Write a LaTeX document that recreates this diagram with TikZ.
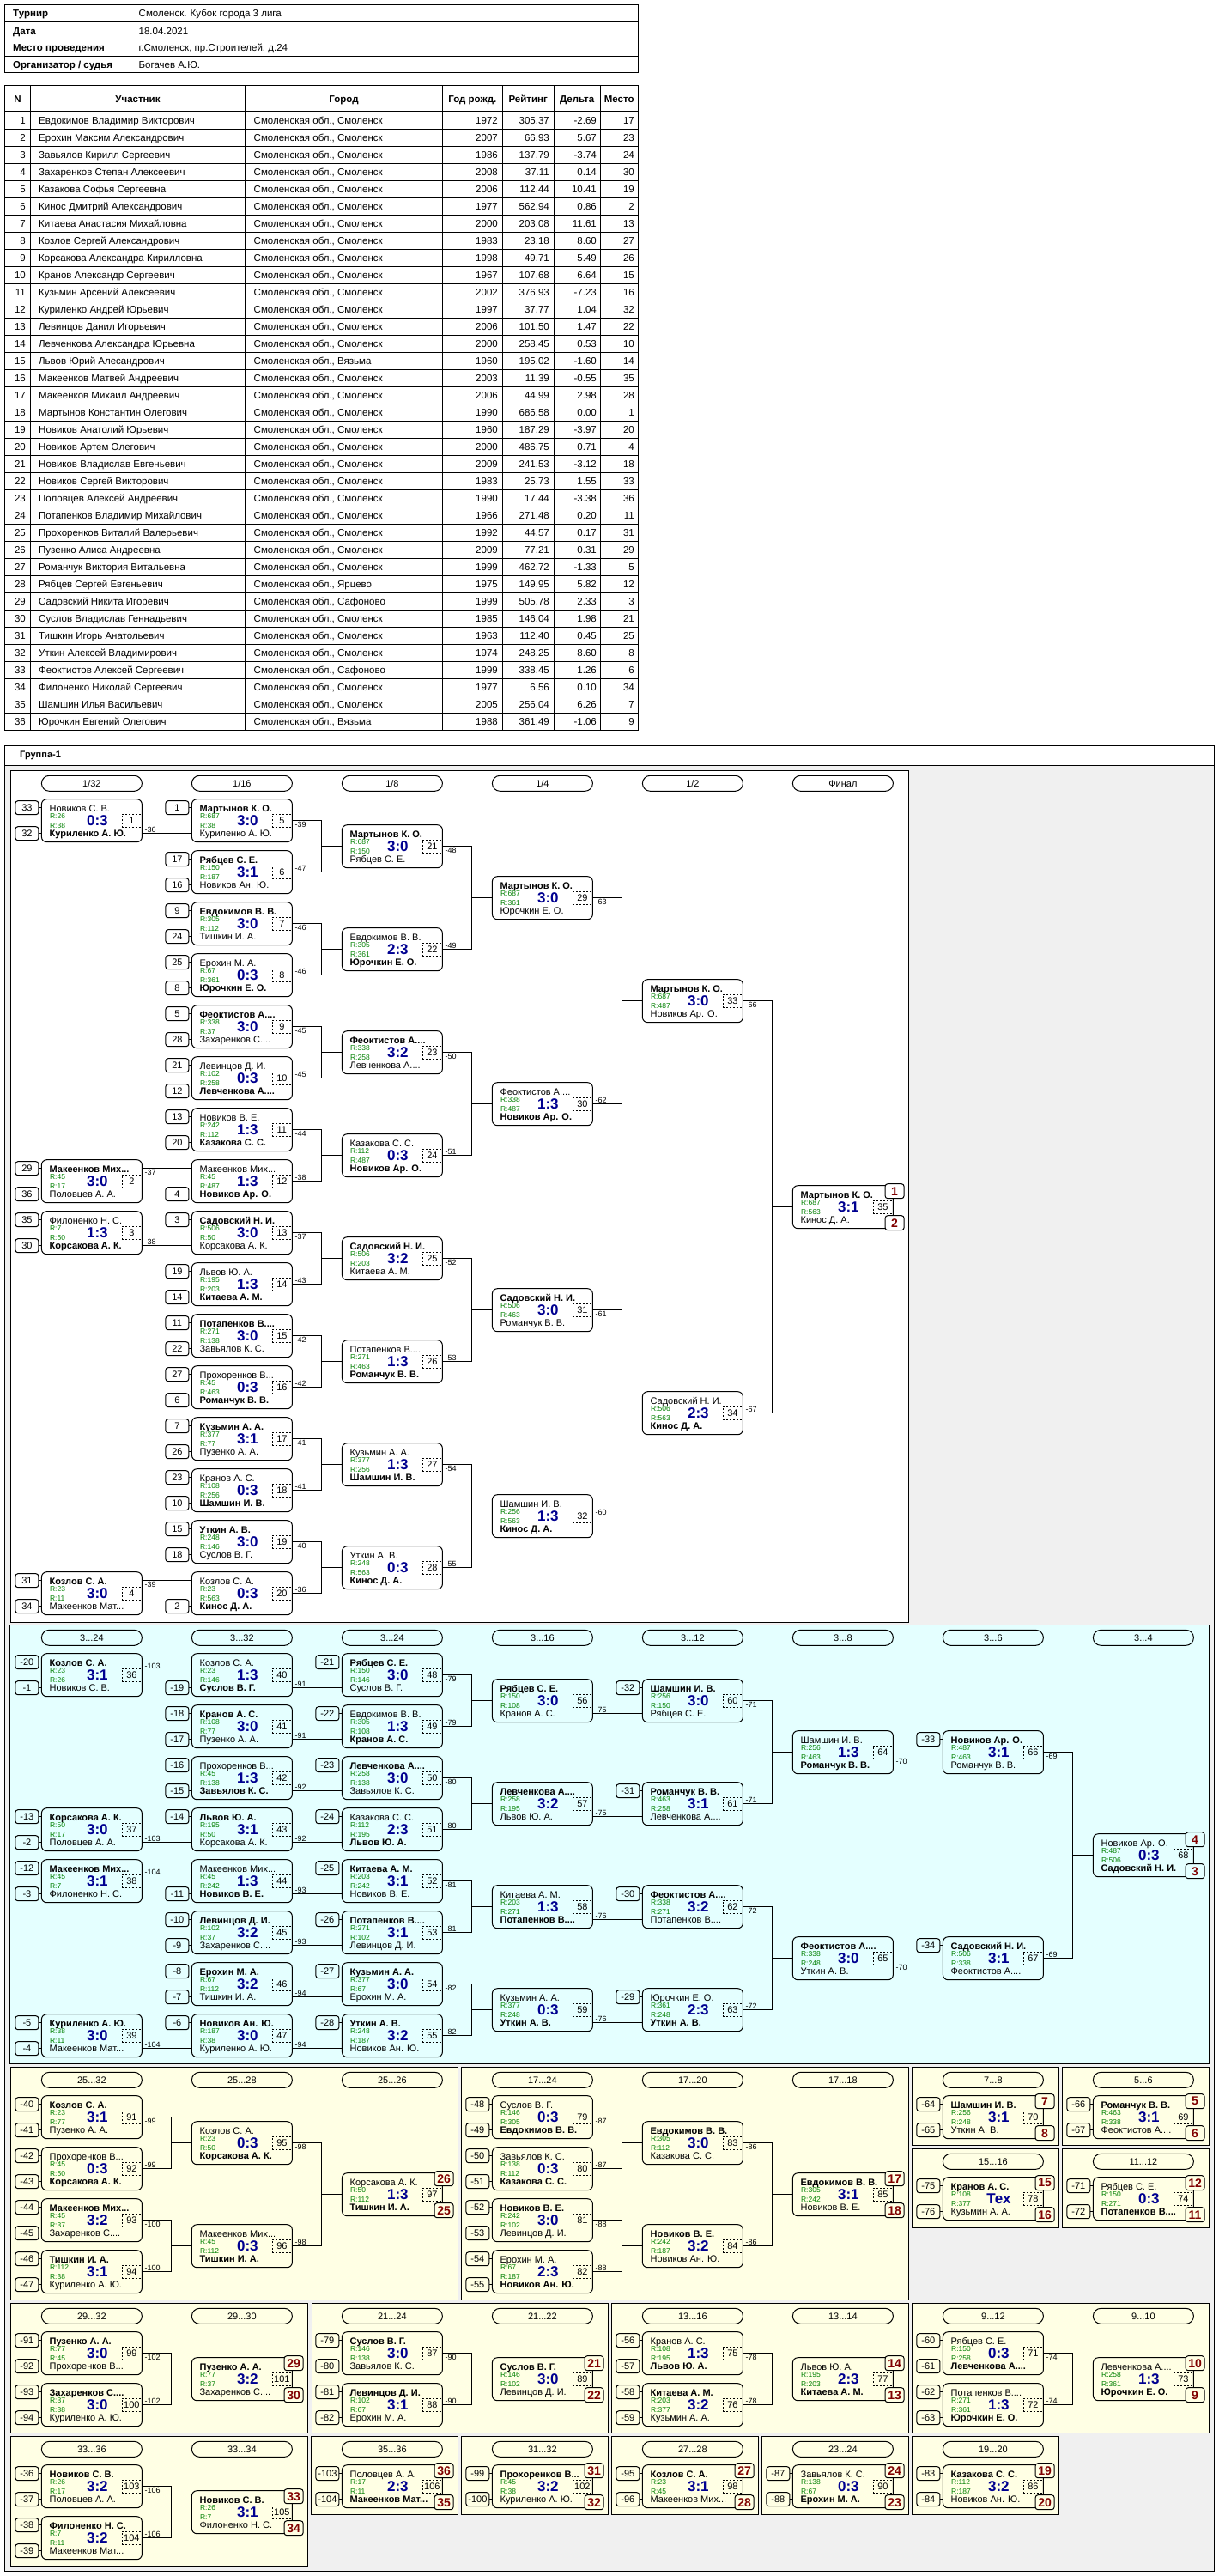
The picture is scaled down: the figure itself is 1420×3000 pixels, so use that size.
\documentclass[tikz,border=0pt]{standalone}
\usepackage{fontspec}
\setmainfont{Liberation Sans}
\usetikzlibrary{calc}
\definecolor{zel}{HTML}{008000}
\definecolor{sinij}{HTML}{000090}
\definecolor{bord}{HTML}{800000}
\definecolor{goluboj}{HTML}{E4FFFF}
\definecolor{krem}{HTML}{FFFFE4}
\definecolor{fon}{HTML}{F0F0F0}

\tikzset{
  lnk/.style={line width=1pt},
  tt/.style={font=\fontsize{11.5}{12}\selectfont, inner sep=0pt, text height=8.3pt, text depth=0pt},
  tb/.style={tt, font=\fontsize{11.5}{12}\selectfont\bfseries},
  mbox/.style={draw, line width=1pt, rounded corners=6pt, minimum width=117pt, minimum height=50pt, inner sep=0pt},
  pname/.style={font=\fontsize{11}{12}\selectfont, anchor=west, inner sep=0pt, text height=8pt, text depth=0pt},
  rtg/.style={font=\fontsize{8.5}{9}\selectfont, text=zel, anchor=west, inner sep=0pt, text height=6.1pt, text depth=0pt},
  scr/.style={font=\fontsize{17}{18}\selectfont\bfseries, text=sinij, inner sep=0pt, text height=12.2pt, text depth=0pt},
  nbox/.style={draw, dashed, dash pattern=on 2pt off 2pt, minimum width=23pt, minimum height=15.6pt, inner sep=0pt, font=\fontsize{11}{12}\selectfont},
  sbox/.style={draw, line width=1pt, rounded corners=3pt, minimum width=27pt, minimum height=16pt, inner sep=0pt, font=\fontsize{11}{12}\selectfont},
  hbox/.style={draw, line width=1pt, rounded corners=9pt, minimum width=117pt, minimum height=18pt, inner sep=0pt, font=\fontsize{11}{12}\selectfont},
  pbox/.style={draw, line width=1pt, rounded corners=3pt, minimum width=22pt, minimum height=17pt, inner sep=0pt, font=\fontsize{14}{15}\selectfont\bfseries, text=bord},
  lab/.style={font=\fontsize{9}{10}\selectfont, inner sep=1pt, text height=6.5pt, text depth=0pt}
}
\newcommand{\tdot}{...}

% match box: X, Y, winner (1/2), name 1, rating 1, name 2, rating 2, score, number
\newcommand{\mt}[9]{%
  \ifnum#3=1\relax\def\mtA{\bfseries}\def\mtB{}\else\def\mtA{}\def\mtB{\bfseries}\fi
  \node[mbox] (m#9) at (#1+58.5,#2+25) {};
  \node[pname] (m#9a) at ([xshift=9.5pt,yshift=14.5pt]m#9.west) {\mtA #4};
  \node[rtg] (m#9ra) at ([xshift=10pt,yshift=5pt]m#9.west) {R:#5};
  \node[rtg] (m#9rb) at ([xshift=10pt,yshift=-6pt]m#9.west) {R:#7};
  \node[pname] (m#9b) at ([xshift=9.5pt,yshift=-14.5pt]m#9.west) {\mtB #6};
  \node[scr] (m#9c) at ([xshift=6.5pt,yshift=0.5pt]m#9.center) {#8};
  \node[nbox] (m#9n) at ([xshift=-12.5pt]m#9.east) {#9};
}
\newcommand{\sdt}[2]{\node[sbox] (m#1st) at ([xshift=-16.5pt,yshift=15pt]m#1.west) {#2};
  \draw[lnk] (m#1st.east) -- (m#1st.east -| m#1.west);}
\newcommand{\sdb}[2]{\node[sbox] (m#1sb) at ([xshift=-16.5pt,yshift=-15pt]m#1.west) {#2};
  \draw[lnk] (m#1sb.east) -- (m#1sb.east -| m#1.west);}
\newcommand{\sds}[3]{\sdt{#1}{#2}\sdb{#1}{#3}}
\newcommand{\brk}[5]{%
  \draw[lnk] (m#1.east) -- ++(34,0) |- (m#3.west);
  \draw[lnk] (m#2.east) -- ++(34,0) |- (m#3.west);
  \node[lab, anchor=north west] (m#1l) at ([xshift=1.5pt,yshift=-0.5pt]m#1.east) {#4};
  \node[lab, anchor=south west] (m#2l) at ([xshift=1.5pt,yshift=0.5pt]m#2.east) {#5};}
\newcommand{\strB}[3]{%
  \draw[lnk] ([yshift=-15pt]m#1.east) -- ([yshift=-15pt]m#2.west);
  \node[lab, anchor=south west] (m#1l) at ([xshift=1.5pt,yshift=-14.5pt]m#1.east) {#3};}
\newcommand{\strT}[3]{%
  \draw[lnk] ([yshift=15pt]m#1.east) -- ([yshift=15pt]m#2.west);
  \node[lab, anchor=north west] (m#1l) at ([xshift=1.5pt,yshift=14.5pt]m#1.east) {#3};}
\newcommand{\fin}[4]{%
  \node[pbox, fill=#4] (m#1pa) at ([xshift=1.2pt,yshift=-7pt]m#1.north east) {#2};
  \node[pbox, fill=#4] (m#1pb) at ([xshift=1.2pt,yshift=7pt]m#1.south east) {#3};}
\newcommand{\pan}[5]{\draw[lnk, fill=#5] (#1,#2) rectangle (#3,#4);}
\newcommand{\hdr}[4]{\node[hbox] (#4) at (#1+58.5,#2+9) {#3};}

\begin{document}
\begin{tikzpicture}[x=1pt, y=-1pt]
\useasboundingbox[fill=white] (0,0) rectangle (1420,3000);

% header table
\draw[lnk] (5.7,5.3) rectangle (743,84.3);
\foreach \y in {26,45.7,65.7} \draw[lnk] (5.7,\y) -- (743,\y);
\draw[lnk] (151,5.3) -- (151,84.3);
\foreach \y/\k/\v [count=\i] in {15.6/Турнир/{Смоленск. Кубок города 3 лига}, 35.9/Дата/18.04.2021,
    55.7/Место проведения/{г.Смоленск, пр.Строителей, д.24}, 75/{Организатор / судья}/Богачев А.Ю.} {
  \node[tb, anchor=west] (hk\i) at (15,\y) {\k};
  \node[tt, anchor=west] (hv\i) at (161.5,\y) {\v};
}

% participants
\draw[lnk] (5.7,100) rectangle (743,850);
\foreach \i in {0,...,35} \draw[lnk] (5.7,130+20*\i) -- (743,130+20*\i);
\foreach \x in {35.6,285.5,515.4,585.3,645.1,699.3} \draw[lnk] (\x,100) -- (\x,850);
\foreach \x/\t [count=\i] in {20.6/N, 160.5/Участник, 400.5/Город, 550.3/Год рожд., 615.2/Рейтинг, 672.2/Дельта, 721.2/Место}
  \node[tb] (th\i) at (\x,115) {\t};
\foreach \n/\fio/\gor/\god/\rt/\dl/\ms in {
  1/Евдокимов Владимир Викторович/Смоленск/1972/305.37/-2.69/17,
  2/Ерохин Максим Александрович/Смоленск/2007/66.93/5.67/23,
  3/Завьялов Кирилл Сергеевич/Смоленск/1986/137.79/-3.74/24,
  4/Захаренков Степан Алексеевич/Смоленск/2008/37.11/0.14/30,
  5/Казакова Софья Сергеевна/Смоленск/2006/112.44/10.41/19,
  6/Кинос Дмитрий Александрович/Смоленск/1977/562.94/0.86/2,
  7/Китаева Анастасия Михайловна/Смоленск/2000/203.08/11.61/13,
  8/Козлов Сергей Александрович/Смоленск/1983/23.18/8.60/27,
  9/Корсакова Александра Кирилловна/Смоленск/1998/49.71/5.49/26,
  10/Кранов Александр Сергеевич/Смоленск/1967/107.68/6.64/15,
  11/Кузьмин Арсений Алексеевич/Смоленск/2002/376.93/-7.23/16,
  12/Куриленко Андрей Юрьевич/Смоленск/1997/37.77/1.04/32,
  13/Левинцов Данил Игорьевич/Смоленск/2006/101.50/1.47/22,
  14/Левченкова Александра Юрьевна/Смоленск/2000/258.45/0.53/10,
  15/Львов Юрий Алесандрович/Вязьма/1960/195.02/-1.60/14,
  16/Макеенков Матвей Андреевич/Смоленск/2003/11.39/-0.55/35,
  17/Макеенков Михаил Андреевич/Смоленск/2006/44.99/2.98/28,
  18/Мартынов Константин Олегович/Смоленск/1990/686.58/0.00/1,
  19/Новиков Анатолий Юрьевич/Смоленск/1960/187.29/-3.97/20,
  20/Новиков Артем Олегович/Смоленск/2000/486.75/0.71/4,
  21/Новиков Владислав Евгеньевич/Смоленск/2009/241.53/-3.12/18,
  22/Новиков Сергей Викторович/Смоленск/1983/25.73/1.55/33,
  23/Половцев Алексей Андреевич/Смоленск/1990/17.44/-3.38/36,
  24/Потапенков Владимир Михайлович/Смоленск/1966/271.48/0.20/11,
  25/Прохоренков Виталий Валерьевич/Смоленск/1992/44.57/0.17/31,
  26/Пузенко Алиса Андреевна/Смоленск/2009/77.21/0.31/29,
  27/Романчук Виктория Витальевна/Смоленск/1999/462.72/-1.33/5,
  28/Рябцев Сергей Евгеньевич/Ярцево/1975/149.95/5.82/12,
  29/Садовский Никита Игоревич/Сафоново/1999/505.78/2.33/3,
  30/Суслов Владислав Геннадьевич/Смоленск/1985/146.04/1.98/21,
  31/Тишкин Игорь Анатольевич/Смоленск/1963/112.40/0.45/25,
  32/Уткин Алексей Владимирович/Смоленск/1974/248.25/8.60/8,
  33/Феоктистов Алексей Сергеевич/Сафоново/1999/338.45/1.26/6,
  34/Филоненко Николай Сергеевич/Смоленск/1977/6.56/0.10/34,
  35/Шамшин Илья Васильевич/Смоленск/2005/256.04/6.26/7,
  36/Юрочкин Евгений Олегович/Вязьма/1988/361.49/-1.06/9} {
  \node[tt, anchor=east] (tn\n) at (30,120+20*\n) {\n};
  \node[tt, anchor=west] (tf\n) at (45,120+20*\n) {\fio};
  \node[tt, anchor=west] (tg\n) at (295.5,120+20*\n) {Смоленская обл., \gor};
  \node[tt, anchor=east] (ty\n) at (580,120+20*\n) {\god};
  \node[tt, anchor=east] (tr\n) at (640,120+20*\n) {\rt};
  \node[tt, anchor=east] (td\n) at (695,120+20*\n) {\dl};
  \node[tt, anchor=east] (tm\n) at (739,120+20*\n) {\ms};
}

% group frame
\draw[lnk, fill=white] (5.5,868) rectangle (1414.5,2994.5);
\fill[fon] (6,891.5) rectangle (1414,2994);
\draw[lnk] (5.5,891) -- (1414.5,891);
\node[font=\fontsize{11}{12}\selectfont\bfseries, anchor=west, inner sep=0pt] (grp) at (23,879.5) {Группа-1};

% panels
\pan{12.5}{897.3}{1058}{1889}{white}
\pan{11.5}{1892.3}{1408.5}{2403}{goluboj}
\pan{12.4}{2407.7}{533}{2678}{krem}
\pan{537.4}{2407.7}{1058}{2678}{krem}
\pan{1062.3}{2407}{1233.3}{2498}{krem}
\pan{1237}{2407}{1408.7}{2498}{krem}
\pan{1062.3}{2502}{1233.3}{2594}{krem}
\pan{1237}{2502}{1408.7}{2594}{krem}
\pan{12.7}{2682}{358.7}{2833.3}{krem}
\pan{363}{2682}{708.5}{2833.3}{krem}
\pan{712.4}{2682}{1058.6}{2833.3}{krem}
\pan{1062.7}{2682}{1408.5}{2833.3}{krem}
\pan{12.7}{2837.3}{358.7}{2988.3}{krem}
\pan{362.8}{2837.3}{533.5}{2928.3}{krem}
\pan{537.6}{2837.3}{708.8}{2928.3}{krem}
\pan{712.4}{2837.3}{883.7}{2928.3}{krem}
\pan{887.3}{2837.3}{1058.6}{2928.3}{krem}
\pan{1062.7}{2837.3}{1233.5}{2928.3}{krem}

% headers
\foreach \x/\t [count=\i] in {48.4/1\slash 32, 223.4/1\slash 16, 398.4/1\slash 8, 573.4/1\slash 4, 748.4/1\slash 2, 923.4/Финал}
  {\hdr{\x}{903.3}{\t}{hm\i}}
\foreach \x/\t [count=\i] in {48.4/3\tdot 24, 223.4/3\tdot 32, 398.4/3\tdot 24, 573.4/3\tdot 16, 748.4/3\tdot 12, 923.4/3\tdot 8, 1098.4/3\tdot 6, 1273.4/3\tdot 4}
  {\hdr{\x}{1898.3}{\t}{hc\i}}
\foreach \x/\t [count=\i] in {48.4/25\tdot 32, 223.4/25\tdot 28, 398.4/25\tdot 26, 573.4/17\tdot 24, 748.4/17\tdot 20, 923.4/17\tdot 18, 1098.4/7\tdot 8, 1273.4/5\tdot 6}
  {\hdr{\x}{2413.3}{\t}{ha\i}}
\foreach \x/\t [count=\i] in {1098.4/15\tdot 16, 1273.4/11\tdot 12}
  {\hdr{\x}{2508.3}{\t}{hb\i}}
\foreach \x/\t [count=\i] in {48.4/29\tdot 32, 223.4/29\tdot 30, 398.4/21\tdot 24, 573.4/21\tdot 22, 748.4/13\tdot 16, 923.4/13\tdot 14, 1098.4/9\tdot 12, 1273.4/9\tdot 10}
  {\hdr{\x}{2688.3}{\t}{hd\i}}
\foreach \x/\t [count=\i] in {48.4/33\tdot 36, 223.4/33\tdot 34, 398.4/35\tdot 36, 573.4/31\tdot 32, 748.4/27\tdot 28, 923.4/23\tdot 24, 1098.4/19\tdot 20}
  {\hdr{\x}{2843.3}{\t}{he\i}}

% main bracket
\mt{48.4}{930.7}{2}{Новиков С. В.}{26}{Куриленко А. Ю.}{38}{0:3}{1}
\mt{48.4}{1350.7}{1}{Макеенков Мих...}{45}{Половцев А. А.}{17}{3:0}{2}
\mt{48.4}{1410.7}{2}{Филоненко Н. С.}{7}{Корсакова А. К.}{50}{1:3}{3}
\mt{48.4}{1830.7}{1}{Козлов С. А.}{23}{Макеенков Мат...}{11}{3:0}{4}
\sds{1}{33}{32}\sds{2}{29}{36}\sds{3}{35}{30}\sds{4}{31}{34}

\mt{223.4}{930.7}{1}{Мартынов К. О.}{687}{Куриленко А. Ю.}{38}{3:0}{5}
\mt{223.4}{990.7}{1}{Рябцев С. Е.}{150}{Новиков Ан. Ю.}{187}{3:1}{6}
\mt{223.4}{1050.7}{1}{Евдокимов В. В.}{305}{Тишкин И. А.}{112}{3:0}{7}
\mt{223.4}{1110.7}{2}{Ерохин М. А.}{67}{Юрочкин Е. О.}{361}{0:3}{8}
\mt{223.4}{1170.7}{1}{Феоктистов А....}{338}{Захаренков С....}{37}{3:0}{9}
\mt{223.4}{1230.7}{2}{Левинцов Д. И.}{102}{Левченкова А....}{258}{0:3}{10}
\mt{223.4}{1290.7}{2}{Новиков В. Е.}{242}{Казакова С. С.}{112}{1:3}{11}
\mt{223.4}{1350.7}{2}{Макеенков Мих...}{45}{Новиков Ар. О.}{487}{1:3}{12}
\mt{223.4}{1410.7}{1}{Садовский Н. И.}{506}{Корсакова А. К.}{50}{3:0}{13}
\mt{223.4}{1470.7}{2}{Львов Ю. А.}{195}{Китаева А. М.}{203}{1:3}{14}
\mt{223.4}{1530.7}{1}{Потапенков В....}{271}{Завьялов К. С.}{138}{3:0}{15}
\mt{223.4}{1590.7}{2}{Прохоренков В...}{45}{Романчук В. В.}{463}{0:3}{16}
\mt{223.4}{1650.7}{1}{Кузьмин А. А.}{377}{Пузенко А. А.}{77}{3:1}{17}
\mt{223.4}{1710.7}{2}{Кранов А. С.}{108}{Шамшин И. В.}{256}{0:3}{18}
\mt{223.4}{1770.7}{1}{Уткин А. В.}{248}{Суслов В. Г.}{146}{3:0}{19}
\mt{223.4}{1830.7}{2}{Козлов С. А.}{23}{Кинос Д. А.}{563}{0:3}{20}
\sdt{5}{1}\sds{6}{17}{16}\sds{7}{9}{24}\sds{8}{25}{8}\sds{9}{5}{28}\sds{10}{21}{12}
\sds{11}{13}{20}\sdb{12}{4}\sdt{13}{3}\sds{14}{19}{14}\sds{15}{11}{22}\sds{16}{27}{6}
\sds{17}{7}{26}\sds{18}{23}{10}\sds{19}{15}{18}\sdb{20}{2}

\mt{398.4}{960.7}{1}{Мартынов К. О.}{687}{Рябцев С. Е.}{150}{3:0}{21}
\mt{398.4}{1080.7}{2}{Евдокимов В. В.}{305}{Юрочкин Е. О.}{361}{2:3}{22}
\mt{398.4}{1200.7}{1}{Феоктистов А....}{338}{Левченкова А....}{258}{3:2}{23}
\mt{398.4}{1320.7}{2}{Казакова С. С.}{112}{Новиков Ар. О.}{487}{0:3}{24}
\mt{398.4}{1440.7}{1}{Садовский Н. И.}{506}{Китаева А. М.}{203}{3:2}{25}
\mt{398.4}{1560.7}{2}{Потапенков В....}{271}{Романчук В. В.}{463}{1:3}{26}
\mt{398.4}{1680.7}{2}{Кузьмин А. А.}{377}{Шамшин И. В.}{256}{1:3}{27}
\mt{398.4}{1800.7}{2}{Уткин А. В.}{248}{Кинос Д. А.}{563}{0:3}{28}

\mt{573.4}{1020.7}{1}{Мартынов К. О.}{687}{Юрочкин Е. О.}{361}{3:0}{29}
\mt{573.4}{1260.7}{2}{Феоктистов А....}{338}{Новиков Ар. О.}{487}{1:3}{30}
\mt{573.4}{1500.7}{1}{Садовский Н. И.}{506}{Романчук В. В.}{463}{3:0}{31}
\mt{573.4}{1740.7}{2}{Шамшин И. В.}{256}{Кинос Д. А.}{563}{1:3}{32}

\mt{748.4}{1140.7}{1}{Мартынов К. О.}{687}{Новиков Ар. О.}{487}{3:0}{33}
\mt{748.4}{1620.7}{2}{Садовский Н. И.}{506}{Кинос Д. А.}{563}{2:3}{34}
\mt{923.4}{1380.7}{1}{Мартынов К. О.}{687}{Кинос Д. А.}{563}{3:1}{35}
\fin{35}{1}{2}{white}

\strB{1}{5}{-36}\strT{2}{12}{-37}\strB{3}{13}{-38}\strT{4}{20}{-39}
\brk{5}{6}{21}{-39}{-47}\brk{7}{8}{22}{-46}{-46}\brk{9}{10}{23}{-45}{-45}\brk{11}{12}{24}{-44}{-38}
\brk{13}{14}{25}{-37}{-43}\brk{15}{16}{26}{-42}{-42}\brk{17}{18}{27}{-41}{-41}\brk{19}{20}{28}{-40}{-36}
\brk{21}{22}{29}{-48}{-49}\brk{23}{24}{30}{-50}{-51}\brk{25}{26}{31}{-52}{-53}\brk{27}{28}{32}{-54}{-55}
\brk{29}{30}{33}{-63}{-62}\brk{31}{32}{34}{-61}{-60}
\brk{33}{34}{35}{-66}{-67}

% places 3..24
\mt{48.4}{1925.7}{1}{Козлов С. А.}{23}{Новиков С. В.}{26}{3:1}{36}
\mt{48.4}{2105.7}{1}{Корсакова А. К.}{50}{Половцев А. А.}{17}{3:0}{37}
\mt{48.4}{2165.7}{1}{Макеенков Мих...}{45}{Филоненко Н. С.}{7}{3:1}{38}
\mt{48.4}{2345.7}{1}{Куриленко А. Ю.}{38}{Макеенков Мат...}{11}{3:0}{39}
\sds{36}{-20}{-1}\sds{37}{-13}{-2}\sds{38}{-12}{-3}\sds{39}{-5}{-4}

\mt{223.4}{1925.7}{2}{Козлов С. А.}{23}{Суслов В. Г.}{146}{1:3}{40}
\mt{223.4}{1985.7}{1}{Кранов А. С.}{108}{Пузенко А. А.}{77}{3:0}{41}
\mt{223.4}{2045.7}{2}{Прохоренков В...}{45}{Завьялов К. С.}{138}{1:3}{42}
\mt{223.4}{2105.7}{1}{Львов Ю. А.}{195}{Корсакова А. К.}{50}{3:1}{43}
\mt{223.4}{2165.7}{2}{Макеенков Мих...}{45}{Новиков В. Е.}{242}{1:3}{44}
\mt{223.4}{2225.7}{1}{Левинцов Д. И.}{102}{Захаренков С....}{37}{3:2}{45}
\mt{223.4}{2285.7}{1}{Ерохин М. А.}{67}{Тишкин И. А.}{112}{3:2}{46}
\mt{223.4}{2345.7}{1}{Новиков Ан. Ю.}{187}{Куриленко А. Ю.}{38}{3:0}{47}
\sdb{40}{-19}\sds{41}{-18}{-17}\sds{42}{-16}{-15}\sdt{43}{-14}
\sdb{44}{-11}\sds{45}{-10}{-9}\sds{46}{-8}{-7}\sdt{47}{-6}

\mt{398.4}{1925.7}{1}{Рябцев С. Е.}{150}{Суслов В. Г.}{146}{3:0}{48}
\mt{398.4}{1985.7}{2}{Евдокимов В. В.}{305}{Кранов А. С.}{108}{1:3}{49}
\mt{398.4}{2045.7}{1}{Левченкова А....}{258}{Завьялов К. С.}{138}{3:0}{50}
\mt{398.4}{2105.7}{2}{Казакова С. С.}{112}{Львов Ю. А.}{195}{2:3}{51}
\mt{398.4}{2165.7}{1}{Китаева А. М.}{203}{Новиков В. Е.}{242}{3:1}{52}
\mt{398.4}{2225.7}{1}{Потапенков В....}{271}{Левинцов Д. И.}{102}{3:1}{53}
\mt{398.4}{2285.7}{1}{Кузьмин А. А.}{377}{Ерохин М. А.}{67}{3:0}{54}
\mt{398.4}{2345.7}{1}{Уткин А. В.}{248}{Новиков Ан. Ю.}{187}{3:2}{55}
\sdt{48}{-21}\sdt{49}{-22}\sdt{50}{-23}\sdt{51}{-24}\sdt{52}{-25}\sdt{53}{-26}\sdt{54}{-27}\sdt{55}{-28}

\mt{573.4}{1955.7}{1}{Рябцев С. Е.}{150}{Кранов А. С.}{108}{3:0}{56}
\mt{573.4}{2075.7}{1}{Левченкова А....}{258}{Львов Ю. А.}{195}{3:2}{57}
\mt{573.4}{2195.7}{2}{Китаева А. М.}{203}{Потапенков В....}{271}{1:3}{58}
\mt{573.4}{2315.7}{2}{Кузьмин А. А.}{377}{Уткин А. В.}{248}{0:3}{59}

\mt{748.4}{1955.7}{1}{Шамшин И. В.}{256}{Рябцев С. Е.}{150}{3:0}{60}
\mt{748.4}{2075.7}{1}{Романчук В. В.}{463}{Левченкова А....}{258}{3:1}{61}
\mt{748.4}{2195.7}{1}{Феоктистов А....}{338}{Потапенков В....}{271}{3:2}{62}
\mt{748.4}{2315.7}{2}{Юрочкин Е. О.}{361}{Уткин А. В.}{248}{2:3}{63}
\sdt{60}{-32}\sdt{61}{-31}\sdt{62}{-30}\sdt{63}{-29}

\mt{923.4}{2015.7}{2}{Шамшин И. В.}{256}{Романчук В. В.}{463}{1:3}{64}
\mt{923.4}{2255.7}{1}{Феоктистов А....}{338}{Уткин А. В.}{248}{3:0}{65}
\mt{1098.4}{2015.7}{1}{Новиков Ар. О.}{487}{Романчук В. В.}{463}{3:1}{66}
\mt{1098.4}{2255.7}{1}{Садовский Н. И.}{506}{Феоктистов А....}{338}{3:1}{67}
\sdt{66}{-33}\sdt{67}{-34}
\mt{1273.4}{2135.7}{2}{Новиков Ар. О.}{487}{Садовский Н. И.}{506}{0:3}{68}
\fin{68}{4}{3}{goluboj}

\strT{36}{40}{-103}\strB{37}{43}{-103}\strT{38}{44}{-104}\strB{39}{47}{-104}
\strB{40}{48}{-91}\strB{41}{49}{-91}\strB{42}{50}{-92}\strB{43}{51}{-92}
\strB{44}{52}{-93}\strB{45}{53}{-93}\strB{46}{54}{-94}\strB{47}{55}{-94}
\brk{48}{49}{56}{-79}{-79}\brk{50}{51}{57}{-80}{-80}\brk{52}{53}{58}{-81}{-81}\brk{54}{55}{59}{-82}{-82}
\strB{56}{60}{-75}\strB{57}{61}{-75}\strB{58}{62}{-76}\strB{59}{63}{-76}
\brk{60}{61}{64}{-71}{-71}\brk{62}{63}{65}{-72}{-72}
\strB{64}{66}{-70}\strB{65}{67}{-70}
\brk{66}{67}{68}{-69}{-69}

% places 25..32 and 17..24
\mt{48.4}{2440.7}{1}{Козлов С. А.}{23}{Пузенко А. А.}{77}{3:1}{91}
\mt{48.4}{2500.7}{2}{Прохоренков В...}{45}{Корсакова А. К.}{50}{0:3}{92}
\mt{48.4}{2560.7}{1}{Макеенков Мих...}{45}{Захаренков С....}{37}{3:2}{93}
\mt{48.4}{2620.7}{1}{Тишкин И. А.}{112}{Куриленко А. Ю.}{38}{3:1}{94}
\sds{91}{-40}{-41}\sds{92}{-42}{-43}\sds{93}{-44}{-45}\sds{94}{-46}{-47}
\mt{223.4}{2470.7}{2}{Козлов С. А.}{23}{Корсакова А. К.}{50}{0:3}{95}
\mt{223.4}{2590.7}{2}{Макеенков Мих...}{45}{Тишкин И. А.}{112}{0:3}{96}
\mt{398.4}{2530.7}{2}{Корсакова А. К.}{50}{Тишкин И. А.}{112}{1:3}{97}
\fin{97}{26}{25}{krem}
\brk{91}{92}{95}{-99}{-99}\brk{93}{94}{96}{-100}{-100}\brk{95}{96}{97}{-98}{-98}

\mt{573.4}{2440.7}{2}{Суслов В. Г.}{146}{Евдокимов В. В.}{305}{0:3}{79}
\mt{573.4}{2500.7}{2}{Завьялов К. С.}{138}{Казакова С. С.}{112}{0:3}{80}
\mt{573.4}{2560.7}{1}{Новиков В. Е.}{242}{Левинцов Д. И.}{102}{3:0}{81}
\mt{573.4}{2620.7}{2}{Ерохин М. А.}{67}{Новиков Ан. Ю.}{187}{2:3}{82}
\sds{79}{-48}{-49}\sds{80}{-50}{-51}\sds{81}{-52}{-53}\sds{82}{-54}{-55}
\mt{748.4}{2470.7}{1}{Евдокимов В. В.}{305}{Казакова С. С.}{112}{3:0}{83}
\mt{748.4}{2590.7}{1}{Новиков В. Е.}{242}{Новиков Ан. Ю.}{187}{3:2}{84}
\mt{923.4}{2530.7}{1}{Евдокимов В. В.}{305}{Новиков В. Е.}{242}{3:1}{85}
\fin{85}{17}{18}{krem}
\brk{79}{80}{83}{-87}{-87}\brk{81}{82}{84}{-88}{-88}\brk{83}{84}{85}{-86}{-86}

% single matches
\mt{1098.4}{2440.7}{1}{Шамшин И. В.}{256}{Уткин А. В.}{248}{3:1}{70}
\sds{70}{-64}{-65}\fin{70}{7}{8}{krem}
\mt{1273.4}{2440.7}{1}{Романчук В. В.}{463}{Феоктистов А....}{338}{3:1}{69}
\sds{69}{-66}{-67}\fin{69}{5}{6}{krem}
\mt{1098.4}{2535.7}{1}{Кранов А. С.}{108}{Кузьмин А. А.}{377}{Тех}{78}
\sds{78}{-75}{-76}\fin{78}{15}{16}{krem}
\mt{1273.4}{2535.7}{2}{Рябцев С. Е.}{150}{Потапенков В....}{271}{0:3}{74}
\sds{74}{-71}{-72}\fin{74}{12}{11}{krem}

% places 29..32, 21..24, 13..16, 9..12
\mt{48.4}{2715.7}{1}{Пузенко А. А.}{77}{Прохоренков В...}{45}{3:0}{99}
\mt{48.4}{2775.7}{1}{Захаренков С....}{37}{Куриленко А. Ю.}{38}{3:0}{100}
\sds{99}{-91}{-92}\sds{100}{-93}{-94}
\mt{223.4}{2745.7}{1}{Пузенко А. А.}{77}{Захаренков С....}{37}{3:2}{101}
\fin{101}{29}{30}{krem}\brk{99}{100}{101}{-102}{-102}

\mt{398.4}{2715.7}{1}{Суслов В. Г.}{146}{Завьялов К. С.}{138}{3:0}{87}
\mt{398.4}{2775.7}{1}{Левинцов Д. И.}{102}{Ерохин М. А.}{67}{3:1}{88}
\sds{87}{-79}{-80}\sds{88}{-81}{-82}
\mt{573.4}{2745.7}{1}{Суслов В. Г.}{146}{Левинцов Д. И.}{102}{3:0}{89}
\fin{89}{21}{22}{krem}\brk{87}{88}{89}{-90}{-90}

\mt{748.4}{2715.7}{2}{Кранов А. С.}{108}{Львов Ю. А.}{195}{1:3}{75}
\mt{748.4}{2775.7}{1}{Китаева А. М.}{203}{Кузьмин А. А.}{377}{3:2}{76}
\sds{75}{-56}{-57}\sds{76}{-58}{-59}
\mt{923.4}{2745.7}{2}{Львов Ю. А.}{195}{Китаева А. М.}{203}{2:3}{77}
\fin{77}{14}{13}{krem}\brk{75}{76}{77}{-78}{-78}

\mt{1098.4}{2715.7}{2}{Рябцев С. Е.}{150}{Левченкова А....}{258}{0:3}{71}
\mt{1098.4}{2775.7}{2}{Потапенков В....}{271}{Юрочкин Е. О.}{361}{1:3}{72}
\sds{71}{-60}{-61}\sds{72}{-62}{-63}
\mt{1273.4}{2745.7}{2}{Левченкова А....}{258}{Юрочкин Е. О.}{361}{1:3}{73}
\fin{73}{10}{9}{krem}\brk{71}{72}{73}{-74}{-74}

% places 33..36 and the last single matches
\mt{48.4}{2870.7}{1}{Новиков С. В.}{26}{Половцев А. А.}{17}{3:2}{103}
\mt{48.4}{2930.7}{1}{Филоненко Н. С.}{7}{Макеенков Мат...}{11}{3:2}{104}
\sds{103}{-36}{-37}\sds{104}{-38}{-39}
\mt{223.4}{2900.7}{1}{Новиков С. В.}{26}{Филоненко Н. С.}{7}{3:1}{105}
\fin{105}{33}{34}{krem}\brk{103}{104}{105}{-106}{-106}

\mt{398.4}{2870.7}{2}{Половцев А. А.}{17}{Макеенков Мат...}{11}{2:3}{106}
\sds{106}{-103}{-104}\fin{106}{36}{35}{krem}
\mt{573.4}{2870.7}{1}{Прохоренков В...}{45}{Куриленко А. Ю.}{38}{3:2}{102}
\sds{102}{-99}{-100}\fin{102}{31}{32}{krem}
\mt{748.4}{2870.7}{1}{Козлов С. А.}{23}{Макеенков Мих...}{45}{3:1}{98}
\sds{98}{-95}{-96}\fin{98}{27}{28}{krem}
\mt{923.4}{2870.7}{2}{Завьялов К. С.}{138}{Ерохин М. А.}{67}{0:3}{90}
\sds{90}{-87}{-88}\fin{90}{24}{23}{krem}
\mt{1098.4}{2870.7}{1}{Казакова С. С.}{112}{Новиков Ан. Ю.}{187}{3:2}{86}
\sds{86}{-83}{-84}\fin{86}{19}{20}{krem}
\end{tikzpicture}
\end{document}
